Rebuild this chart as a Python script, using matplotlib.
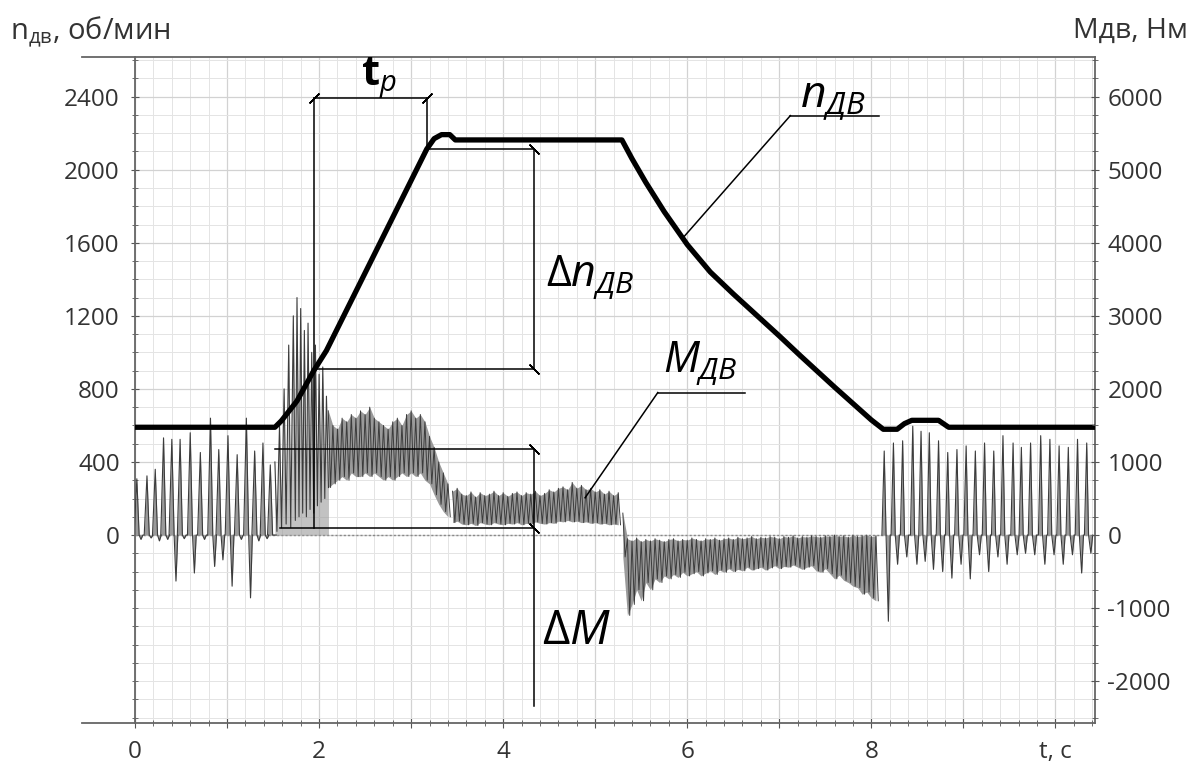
import matplotlib
matplotlib.use("Agg")
import matplotlib.pyplot as plt
from matplotlib.ticker import MultipleLocator, FixedLocator

plt.rcParams['font.family'] = ['Open Sans', 'DejaVu Sans']
plt.rcParams['mathtext.fontset'] = 'custom'
plt.rcParams['mathtext.rm'] = 'Open Sans'
plt.rcParams['mathtext.it'] = 'Open Sans:italic'
plt.rcParams['mathtext.bf'] = 'Open Sans:bold'
plt.rcParams['axes.unicode_minus'] = False

# ---- motor speed n, rpm (left axis) ----
n_t = [0.0, 1.52, 1.59, 1.76, 1.94, 2.08, 3.17, 3.25, 3.33, 3.42, 3.48, 5.29,
       5.40, 5.55, 5.75, 6.0, 6.25, 6.5, 7.0, 7.23, 7.6, 8.0, 8.13, 8.28, 8.36,
       8.44, 8.73, 8.84, 10.43]
n_v = [590, 590, 625, 734, 898, 1010, 2113, 2170, 2192, 2192, 2163, 2163,
       2060, 1930, 1770, 1590, 1440, 1320, 1090, 981, 810, 630, 579, 579, 610,
       628, 628, 590, 590]

# ---- motor torque M, N*m (right axis) ----
# idle pulses before start
idle_t = [0.02, 0.13, 0.22, 0.31, 0.40, 0.49, 0.60, 0.71, 0.82, 0.91, 1.01, 1.11,
          1.21, 1.30, 1.39, 1.47]
idle_peak = [770, 810, 900, 1330, 1310, 1310, 1400, 1130, 1600, 1170, 1360, 1100,
             1600, 1150, 1260, 960]
idle_trough = [-60, -40, -80, -60, -630, -50, -520, -60, -430, -340, -700, -60,
               -860, -80, -50, 0]
# starting surge
surge_t = [1.52, 1.57, 1.62, 1.67, 1.72, 1.76, 1.80, 1.84, 1.88, 1.92, 1.96, 2.00,
           2.04, 2.08]
surge_peak = [1000, 1500, 2000, 2600, 3000, 3250, 3100, 2800, 2900, 2500, 2600,
              2200, 2300, 1900]
surge_low = [50, 100, 150, 100, 200, 250, 300, 250, 350, 300, 400, 450, 500, 650]
# acceleration band
acc_t = [2.10, 2.15, 2.20, 2.25, 2.30, 2.35, 2.40, 2.45, 2.50, 2.55,
         2.60, 2.65, 2.70, 2.75, 2.80, 2.85, 2.90, 2.95, 3.00, 3.05,
         3.10, 3.15, 3.20, 3.25, 3.30, 3.35, 3.40]
acc_hi = [1700, 1500, 1450, 1600, 1550, 1650, 1600, 1700, 1650, 1750,
          1600, 1550, 1500, 1450, 1550, 1600, 1500, 1650, 1700, 1600,
          1650, 1550, 1350, 1200, 1000, 850, 700]
acc_lo = [650, 700, 750, 800, 750, 850, 800, 800, 850, 800,
          850, 800, 750, 800, 750, 800, 850, 800, 850, 800,
          850, 750, 700, 550, 420, 320, 250]
# steady speed band
run_t = [3.45, 3.50, 3.55, 3.60, 3.65, 3.70, 3.75, 3.80, 3.85, 3.90,
         3.95, 4.00, 4.05, 4.10, 4.15, 4.20, 4.25, 4.30, 4.35, 4.40,
         4.45, 4.50, 4.55, 4.60, 4.65, 4.70, 4.75, 4.80, 4.85, 4.90,
         4.95, 5.00, 5.05, 5.10, 5.15, 5.20, 5.25]
run_hi = [600, 640, 560, 540, 590, 520, 580, 540, 560, 600,
          540, 580, 530, 570, 590, 540, 580, 560, 600, 540,
          570, 620, 590, 640, 660, 620, 720, 640, 680, 620,
          640, 590, 620, 560, 600, 540, 580]
run_lo = [170, 190, 150, 140, 160, 130, 170, 150, 140, 170,
          150, 140, 160, 150, 170, 140, 160, 150, 180, 160,
          150, 170, 160, 190, 180, 200, 180, 190, 170, 180,
          160, 170, 150, 160, 140, 150, 140]
# braking band
brk_t = [5.30, 5.35, 5.40, 5.45, 5.50, 5.55, 5.60, 5.65, 5.70, 5.75,
         5.80, 5.85, 5.90, 5.95, 6.00, 6.05, 6.10, 6.15, 6.20, 6.25,
         6.30, 6.35, 6.40, 6.45, 6.50, 6.55, 6.60, 6.65, 6.70, 6.75,
         6.80, 6.85, 6.90, 6.95, 7.00, 7.05, 7.10, 7.15, 7.20, 7.25,
         7.30, 7.35, 7.40, 7.45, 7.50, 7.55, 7.60, 7.65, 7.70, 7.75,
         7.80, 7.85, 7.90, 7.95, 8.00, 8.05]
brk_hi = [300, -50, -80, -40, -90, -60, -80, -50, -70, -90,
          -60, -50, -80, -60, -70, -40, -60, -80, -50, -60,
          -40, -70, -50, -40, -60, -30, -50, -40, -20, -50,
          -30, -40, -20, -30, -50, -20, -30, -10, -40, -20,
          -30, -10, -20, -30, -10, -20, 0, -20, -10, -30,
          0, -20, -10, 0, -20, -10]
brk_lo = [-300, -1100, -950, -750, -900, -650, -750, -600, -650, -560,
          -600, -540, -580, -510, -560, -530, -500, -560, -520, -490,
          -540, -480, -510, -460, -500, -470, -490, -440, -480, -460,
          -440, -480, -450, -420, -460, -430, -440, -410, -440, -470,
          -440, -420, -490, -510, -460, -530, -600, -550, -620, -650,
          -700, -720, -810, -780, -860, -900]
# pulses after stop
end_t = [8.14, 8.24, 8.34, 8.45, 8.54, 8.63, 8.73, 8.83, 8.93, 9.03, 9.13, 9.23,
         9.33, 9.43, 9.54, 9.63, 9.73, 9.84, 9.94, 10.04, 10.14, 10.24, 10.34]
end_peak = [1150, 1260, 1290, 1490, 1420, 1400, 1290, 1130, 1170, 1220, 1150, 1260,
            1150, 1360, 1260, 1200, 1260, 1360, 1310, 1220, 1200, 1310, 1260]
end_trough = [-1180, -400, -300, -400, -360, -470, -500, -590, -400, -600, -270,
              -500, -300, -400, -270, -250, -270, -400, -270, -400, -270, -520, -250]

RPM_PER_NM = 0.4   # 1000 N*m on the right axis = 400 rpm on the left axis

fig = plt.figure(figsize=(11.9, 7.65), dpi=100)
W, H = 1190, 765
L, R, T, B = 135, 1095, 57, 723
ax = fig.add_axes([L / W, 1 - B / H, (R - L) / W, (B - T) / H])
ax.set_xlim(0, 10.43)
ax.set_ylim(-1029, 2617)

# grid
ax.xaxis.set_major_locator(MultipleLocator(1))
ax.xaxis.set_minor_locator(MultipleLocator(0.2))
ax.yaxis.set_major_locator(FixedLocator([0, 400, 800, 1200, 1600, 2000, 2400]))
ax.yaxis.set_minor_locator(MultipleLocator(100))
ax.grid(which='major', color='#d2d2d2', lw=0.9)
ax.grid(which='minor', color='#e4e4e4', lw=0.7)
ax.set_axisbelow(True)
ax.axhline(0, color='#8a8a8a', lw=1.0, ls=(0, (1.5, 1.5)), zorder=1)

tick_font = 17.5
ax.set_xticks([0, 1, 2, 3, 4, 5, 6, 7, 8, 9, 10])
ax.set_xticklabels(['0', '', '2', '', '4', '', '6', '', '8', '', 't, c'])
ax.set_yticks([0, 400, 800, 1200, 1600, 2000, 2400])
ax.set_yticklabels(['0', '400', '800', '1200', '1600', '2000', '2400'])
ax.tick_params(axis='both', which='both', direction='inout', color='#555555',
               labelsize=tick_font, labelcolor='#333333')
ax.tick_params(axis='x', which='major', length=7, pad=9)
ax.tick_params(axis='x', which='minor', length=4)
ax.tick_params(axis='y', which='major', length=6, pad=8)
ax.tick_params(axis='y', which='minor', length=5)
for s in ax.spines.values():
    s.set_color('#666666')
    s.set_linewidth(1.3)

ax2 = ax.twinx()
ax2.set_ylim(-1029 / RPM_PER_NM, 2617 / RPM_PER_NM)
ax2.yaxis.set_minor_locator(MultipleLocator(250))
ax2.set_yticks([-2000, -1000, 0, 1000, 2000, 3000, 4000, 5000, 6000])
ax2.tick_params(axis='y', which='both', direction='inout', color='#555555',
                labelsize=tick_font, labelcolor='#333333', pad=6)
ax2.tick_params(axis='y', which='major', length=6)
ax2.tick_params(axis='y', which='minor', length=5)
for s in ax2.spines.values():
    s.set_visible(False)

# frame lines extending to the left of the plot
for yy in (1 - T / H, 1 - B / H):
    fig.add_artist(plt.Line2D([82 / W, L / W], [yy, yy], color='#666666', lw=1.3))

# ---- torque trace ----
tc = '#3c3c3c'
fc = '#9a9a9a'

def m2n(vals):
    return [v * RPM_PER_NM for v in vals]

# idle pulses
xs, ys = [], []
for t, p, q in zip(idle_t, idle_peak, idle_trough):
    xs += [t - 0.03, t, t + 0.025, t + 0.045, t + 0.065]
    ys += [0, p, 0, q, 0]
ax.fill_between(xs, m2n(ys), 0, color=fc, lw=0, zorder=2)
ax.plot(xs, m2n(ys), color=tc, lw=0.8, zorder=3)

# starting surge
xs, ys = [], []
for t, p, q in zip(surge_t, surge_peak, surge_low):
    xs += [t, t + 0.022]
    ys += [p, q]
ax.fill_between(xs, m2n(ys), 0, color=fc, lw=0, zorder=2, alpha=0.6)
ax.plot(xs, m2n(ys), color=tc, lw=0.8, zorder=3)

# noisy bands
for bt, bh, bl in ((acc_t, acc_hi, acc_lo), (run_t, run_hi, run_lo), (brk_t, brk_hi, brk_lo)):
    ax.fill_between(bt, m2n(bl), m2n(bh), color=fc, lw=0, zorder=2)
    xs, ys = [], []
    for t, h, l in zip(bt, bh, bl):
        xs += [t, t + 0.025]
        ys += [h, l]
    ax.plot(xs, m2n(ys), color=tc, lw=0.7, zorder=3)

# pulses after stop
xs, ys = [], []
for t, p, q in zip(end_t, end_peak, end_trough):
    xs += [t - 0.025, t, t + 0.02, t + 0.045, t + 0.065]
    ys += [0, p, 0, q, 0]
ax.fill_between(xs, m2n(ys), 0, color=fc, lw=0, zorder=2)
ax.plot(xs, m2n(ys), color=tc, lw=0.8, zorder=3)

# ---- speed curve ----
ax.plot(n_t, n_v, color='black', lw=3.8, solid_joinstyle='round', zorder=5)

# ---- dimension lines ----
def seg(x0, y0, x1, y1):
    ax.plot([x0, x1], [y0, y1], color='black', lw=1.1, zorder=6)

def mark(x, y, ang):
    ax.plot([x], [y], marker=(2, 2, ang), ms=10, mew=1.1, color='black', zorder=6)

# t_p
seg(1.94, 2392, 3.17, 2392)
seg(1.94, 2392, 1.94, 40)
seg(3.17, 2392, 3.17, 2113)
mark(1.94, 2392, -45)
mark(3.17, 2392, -45)
# delta n
seg(3.17, 2113, 4.33, 2113)
seg(1.94, 911, 4.33, 911)
seg(4.33, 2113, 4.33, 911)
mark(4.33, 2113, 45)
mark(4.33, 911, 45)
# delta M
seg(1.52, 471, 4.33, 471)
seg(1.58, 38, 4.33, 38)
seg(4.33, 471, 4.33, -937)
mark(4.33, 471, 45)
mark(4.33, 38, 45)

# leaders
seg(5.95, 1625, 7.12, 2296)
seg(7.12, 2296, 8.08, 2296)
seg(4.89, 204, 5.68, 780)
seg(5.68, 780, 6.63, 780)

# ---- labels ----
ax.text(2.45, 2464, r'$\mathbf{t}_{\mathit{p}}$', fontsize=30, zorder=7)
ax.text(4.47, 1363, r'$\mathit{\Delta n}_{\mathit{ДВ}}$', fontsize=31, zorder=7)
ax.text(4.42, -595, r'$\mathit{\Delta M}$', fontsize=34, zorder=7)
ax.text(7.23, 2342, r'$\mathit{n}_{\mathit{ДВ}}$', fontsize=32, zorder=7)
ax.text(5.74, 892, r'$\mathit{M}_{\mathit{ДВ}}$', fontsize=31, zorder=7)

fig.text(10 / W, 1 - 40 / H, r'n$_{\mathrm{дв}}$, об/мин', fontsize=21, color='#333333')
fig.text(1188 / W, 1 - 38 / H, 'Mдв, Нм', fontsize=20.5, color='#333333', ha='right')

fig.savefig('out.png', dpi=100)
